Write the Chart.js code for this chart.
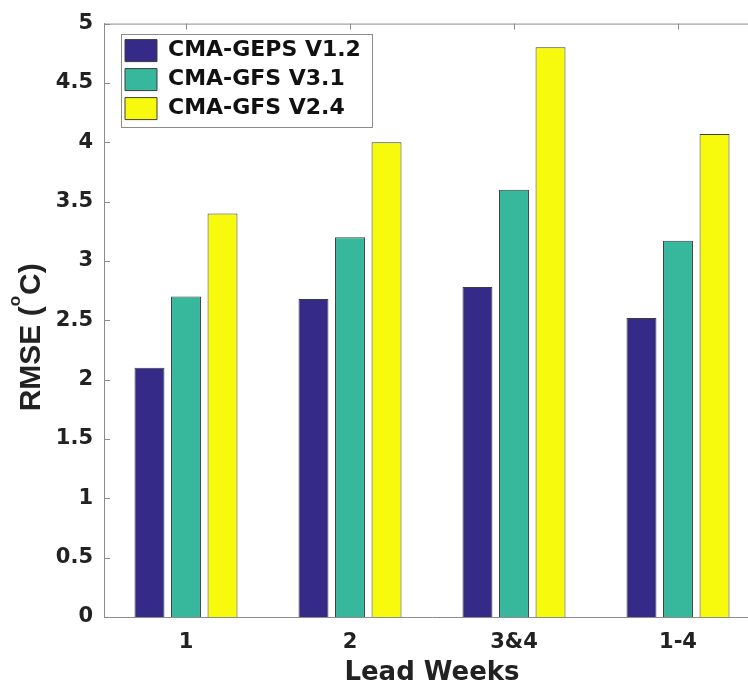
<!DOCTYPE html>
<html>
<head>
<meta charset="utf-8">
<script src="https://cdn.jsdelivr.net/npm/chart.js@4"></script>
<style>
html,body{margin:0;padding:0;overflow:hidden;background:#fff;width:748px;height:684px}
#wrap{position:absolute;left:0;top:0;width:762px;height:684px}
</style>
</head>
<body>
<div id="wrap"><canvas id="c" width="762" height="684"></canvas></div>
<script>
// ---- data ----
const categories = ['1', '2', '3&4', '1-4'];
const seriesNames = ['CMA-GEPS V1.2', 'CMA-GFS V3.1', 'CMA-GFS V2.4'];
const gepsV12 = [2.10, 2.68, 2.78, 2.52];
const gfsV31 = [2.70, 3.20, 3.60, 3.17];
const gfsV24 = [3.40, 4.00, 4.80, 4.07];
const yMin = 0;
const yMax = 5;
const yStep = 0.5;
const xAxisTitle = 'Lead Weeks';
const yAxisTitleParts = ['RMSE (', 'o', 'C)'];

// ---- styles ----
const FONT = 'DejaVu Sans';
const AXIS = '#8c8c8c';
const TEXT = '#222222';
const colors = ['#352a87', '#37b89d', '#f8fa0d'];
const edge = '#3c3c3c';

const boxPlugin = {
  id: 'matlabBox',
  afterLayout(chart) {
    const a = chart.chartArea, lg = chart.legend;
    if (!lg) return;
    lg.left = a.left + 14;
    lg.top = a.top + 9;
    lg.right = a.right;
    lg.bottom = a.bottom;
  },
  beforeDatasetsDraw(chart) {
    const {ctx, chartArea: a, scales: {x, y}} = chart;
    ctx.save();
    ctx.strokeStyle = AXIS;
    ctx.lineWidth = 1;
    ctx.beginPath();
    ctx.moveTo(a.left, a.top + 0.5); ctx.lineTo(a.right, a.top + 0.5);
    ctx.moveTo(a.right - 0.5, a.top); ctx.lineTo(a.right - 0.5, a.bottom);
    y.ticks.forEach(t => {
      const py = Math.round(y.getPixelForValue(t.value)) + 0.5;
      ctx.moveTo(a.left, py); ctx.lineTo(a.left + 6, py);
      ctx.moveTo(a.right, py); ctx.lineTo(a.right - 6, py);
    });
    x.ticks.forEach((t, i) => {
      const px = Math.round(x.getPixelForValue(i)) + 0.5;
      ctx.moveTo(px, a.top); ctx.lineTo(px, a.top + 6);
      ctx.moveTo(px, a.bottom); ctx.lineTo(px, a.bottom - 6);
    });
    ctx.stroke();
    ctx.restore();
  },
  afterDraw(chart) {
    const {ctx, chartArea: a} = chart;
    const lg = chart.legend;
    ctx.save();
    if (lg && lg.legendHitBoxes && lg.legendHitBoxes.length) {
      const hb = lg.legendHitBoxes;
      const x0 = hb[0].left - 4;
      const y0 = hb[0].top - 6;
      let x1 = 0;
      hb.forEach(h => { x1 = Math.max(x1, h.left + h.width); });
      x1 += 11;
      const last = hb[hb.length - 1];
      const y1 = last.top + last.height + 7;
      ctx.strokeStyle = AXIS;
      ctx.lineWidth = 1;
      ctx.strokeRect(Math.round(x0) + 0.5, Math.round(y0) + 0.5, Math.round(x1 - x0), Math.round(y1 - y0));
    }
    // y axis title with superscript
    const big = 'bold 30px "Liberation Sans"';
    const small = 'bold 17px "Liberation Sans"';
    ctx.font = big;
    const w0 = ctx.measureText(yAxisTitleParts[0]).width;
    const w2 = ctx.measureText(yAxisTitleParts[2]).width;
    ctx.font = small;
    const w1 = ctx.measureText(yAxisTitleParts[1]).width + 1;
    const total = w0 + w1 + w2;
    const cy = (a.top + a.bottom) / 2 + 17;
    ctx.translate(40, cy);
    ctx.rotate(-Math.PI / 2);
    ctx.fillStyle = TEXT;
    ctx.textBaseline = 'alphabetic';
    ctx.textAlign = 'left';
    let sx = -total / 2;
    ctx.font = big;
    ctx.fillText(yAxisTitleParts[0], sx, 0);
    sx += w0;
    ctx.font = small;
    ctx.fillText(yAxisTitleParts[1], sx, -20);
    sx += w1;
    ctx.font = big;
    ctx.fillText(yAxisTitleParts[2], sx, 0);
    ctx.restore();
  }
};

const makeDs = (label, data, i) => ({
  label, data,
  backgroundColor: colors[i],
  borderColor: edge,
  borderWidth: 1,
  categoryPercentage: 0.668,
  barPercentage: 0.82
});

new Chart(document.getElementById('c'), {
  type: 'bar',
  data: {
    labels: categories,
    datasets: [
      makeDs(seriesNames[0], gepsV12, 0),
      makeDs(seriesNames[1], gfsV31, 1),
      makeDs(seriesNames[2], gfsV24, 2)
    ]
  },
  options: {
    responsive: false,
    animation: false,
    devicePixelRatio: 1,
    layout: {padding: {top: 18, right: 2, left: 0, bottom: 0}},
    plugins: {
      tooltip: {enabled: false},
      legend: {
        position: 'chartArea',
        align: 'start',
        labels: {
          boxWidth: 32,
          boxHeight: 22,
          padding: 7,
          color: '#111',
          font: {family: FONT, size: 22, weight: 'bold'}
        }
      }
    },
    scales: {
      x: {
        grid: {display: false, drawTicks: false},
        border: {display: true, color: AXIS, width: 1},
        ticks: {color: TEXT, padding: 13, font: {family: FONT, size: 21, weight: 'bold'}},
        title: {display: true, text: xAxisTitle, color: TEXT, padding: {top: 0, bottom: -5},
                font: {family: FONT, size: 26, weight: 'bold'}},
        afterFit(s) { s.height = 67; }
      },
      y: {
        min: yMin, max: yMax,
        grid: {display: false, drawTicks: false},
        border: {display: true, color: AXIS, width: 1},
        ticks: {stepSize: yStep, color: TEXT, padding: 11,
                font: {family: FONT, size: 21, weight: 'bold'},
                callback: v => String(Number(v.toFixed(1)))},
        afterFit(s) { s.width = 104; }
      }
    }
  },
  plugins: [boxPlugin]
});
</script>
</body>
</html>
